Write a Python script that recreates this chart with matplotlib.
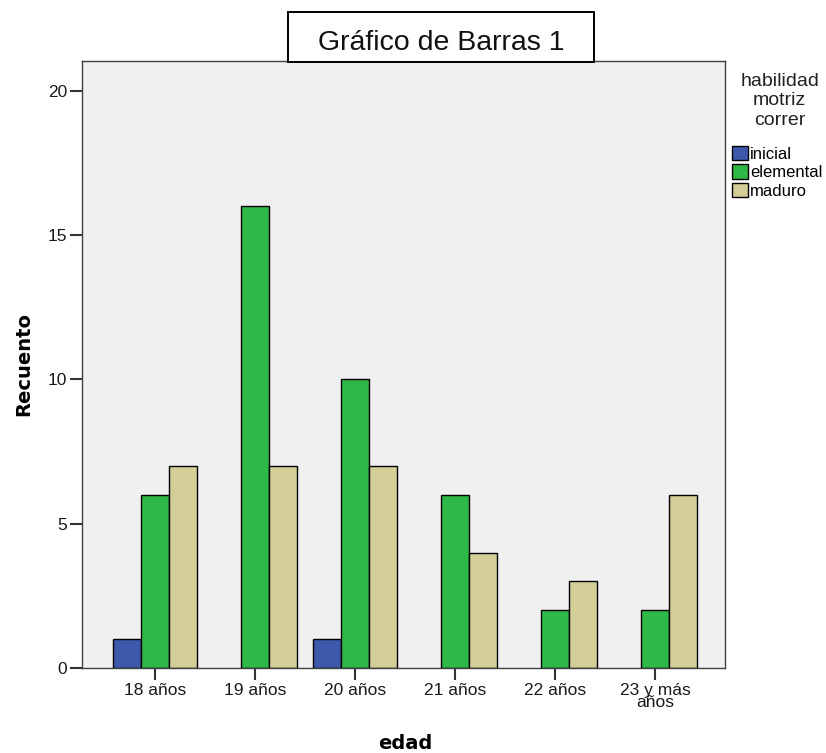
import matplotlib.pyplot as plt
from matplotlib.patches import Rectangle
import numpy as np

plt.rcParams['font.family'] = ['Liberation Sans', 'DejaVu Sans']

# datos
edades = ["18 años", "19 años", "20 años", "21 años", "22 años", "23 y más\naños"]
inicial = [1, 0, 1, 0, 0, 0]
elemental = [6, 16, 10, 6, 2, 2]
maduro = [7, 7, 7, 4, 3, 6]
series = [("inicial", inicial, "#3E58AC"),
          ("elemental", elemental, "#2EB848"),
          ("maduro", maduro, "#D3CE97")]

fig = plt.figure(figsize=(8.26, 7.53), dpi=100)
ax = fig.add_axes([0.0993, 0.1129, 0.7784, 0.8061])
ax.set_facecolor("#F0F0F0")

x = np.arange(len(edades))
w = 0.28
for k, (name, vals, col) in enumerate(series):
    vals = np.array(vals)
    keep = vals > 0  # SPSS no dibuja barras vacias
    ax.bar(x[keep] + (k - 1) * w, vals[keep], w, color=col, edgecolor="black",
           linewidth=1, label=name, zorder=2)

ax.set_xlim(-0.73, 5.70)
ax.set_ylim(0, 21.04)
ax.set_yticks([0, 5, 10, 15, 20])
ax.set_xticks(x)
ax.set_xticklabels(edades, linespacing=0.75)
ax.tick_params(axis="both", direction="out", length=8.5, width=1.5,
               color="#333333", labelsize=12.5, pad=2, labelcolor="#1a1a1a")
for s in ax.spines.values():
    s.set_color("#404040")
    s.set_linewidth(1)

ax.set_ylabel("Recuento", fontsize=14, fontweight="bold", family="DejaVu Sans")
ax.yaxis.set_label_coords(-0.076, 0.5)
ax.set_xlabel("edad", fontsize=14, fontweight="bold", family="DejaVu Sans")
ax.xaxis.set_label_coords(0.502, -0.108)

# titulo con recuadro
fig.patches.append(Rectangle((288 / 826, 1 - 62 / 753), 306 / 826, 50 / 753,
                             transform=fig.transFigure, fc="white", ec="black",
                             lw=1.4, zorder=2))
fig.text(441 / 826, 1 - 50 / 753, "Gráfico de Barras 1", ha="center",
         va="baseline", fontsize=20.5, zorder=3, color="#111111")

fig.text(0.944, 0.866, "habilidad\nmotriz\ncorrer", ha="center", va="center",
         fontsize=14, linespacing=1.2, color="#222222")
fig.legend(loc="upper left", bbox_to_anchor=(0.886, 0.806), frameon=False,
           fontsize=12, handlelength=0.95, handleheight=0.95, handletextpad=0.15,
           labelspacing=0.15, borderaxespad=0, borderpad=0)

fig.savefig("out.png", dpi=100)
